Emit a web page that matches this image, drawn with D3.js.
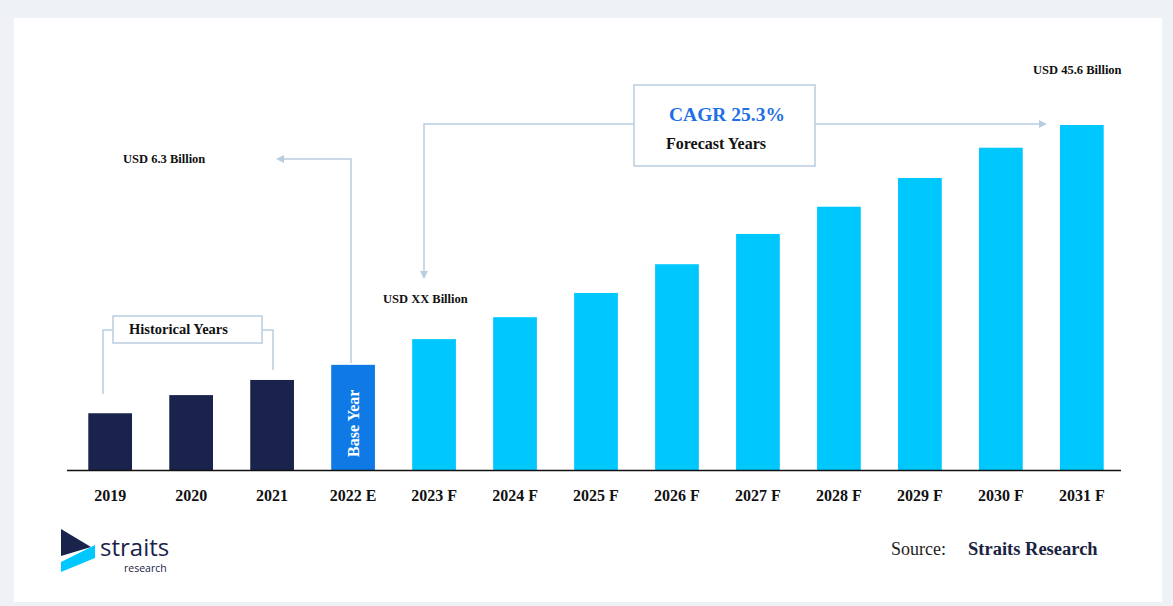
<!DOCTYPE html><html><head><meta charset="utf-8">
<script src="https://cdn.jsdelivr.net/npm/d3@7"></script>
<style>body{margin:0;background:#eef1f5}</style></head><body>
<svg id="c" width="1173" height="606"></svg>
<script>
const categories=["2019","2020","2021","2022 E","2023 F","2024 F","2025 F","2026 F","2027 F","2028 F","2029 F","2030 F","2031 F"];
const values=[7.5,9.9,11.9,13.9,17.3,20.2,23.4,27.2,31.2,34.8,38.6,42.6,45.6];
const colors=["#19234b","#19234b","#19234b","#0f7ae5","#00c8ff","#00c8ff","#00c8ff","#00c8ff","#00c8ff","#00c8ff","#00c8ff","#00c8ff","#00c8ff"];
const svg=d3.select("#c");
svg.append("rect").attr("x",14).attr("y",18).attr("width",1148).attr("height",584).attr("fill","#fff");
const x=d3.scaleBand().domain(categories).range([64,1128]).paddingInner(0.46).paddingOuter(0.3);
const y=d3.scaleLinear().domain([0,45.6]).range([470,125]);
svg.selectAll(".b").data(values).join("rect").attr("x",(d,i)=>x(categories[i])).attr("width",x.bandwidth())
 .attr("y",d=>y(d)).attr("height",d=>470-y(d)).attr("fill",(d,i)=>colors[i]);
svg.append("line").attr("x1",67).attr("x2",1121).attr("y1",470.5).attr("y2",470.5).attr("stroke","#111").attr("stroke-width",1.5);
const ax=svg.append("g").attr("transform","translate(0,470)").call(d3.axisBottom(x).tickSize(0).tickPadding(20));
ax.select(".domain").remove();
ax.selectAll("text").attr("font-family","Liberation Serif").attr("font-weight","bold").attr("font-size",16).attr("fill","#111");
const T=(t,xx,yy,s,o={})=>svg.append("text").text(t).attr("x",xx).attr("y",yy).attr("font-family","Liberation Serif").attr("font-weight","bold").attr("font-size",s).attr("fill",o.fill||"#111").attr("text-anchor",o.a||"start");
const bx=c=>x(c)+x.bandwidth()/2;
svg.append("text").text("Base Year").attr("transform",`translate(${bx("2022 E")+6},457) rotate(-90)`).attr("font-family","Liberation Serif").attr("font-weight","bold").attr("font-size",16).attr("fill","#fff");
const st="#b8cde0";
svg.append("path").attr("d",`M103,394V330H113M262,330H273V370`).attr("fill","none").attr("stroke",st).attr("stroke-width",1.5);
svg.append("rect").attr("x",113).attr("y",316).attr("width",149).attr("height",27).attr("fill","#fff").attr("stroke",st).attr("stroke-width",1.5);
T("Historical Years",129,334,14.5);
svg.append("path").attr("d",`M351,363V159H282`).attr("fill","none").attr("stroke",st).attr("stroke-width",1.5);
svg.append("path").attr("d","M276,159l8,-4v8z").attr("fill",st);
T("USD 6.3 Billion",123,163,12.5);
svg.append("path").attr("d",`M424,272V124H634M815,124H1040`).attr("fill","none").attr("stroke",st).attr("stroke-width",1.5);
svg.append("path").attr("d","M424,279l-4,-8h8z").attr("fill",st);
svg.append("path").attr("d","M1047,124l-8,-4v8z").attr("fill",st);
svg.append("rect").attr("x",634).attr("y",85).attr("width",181).attr("height",81).attr("fill","#fff").attr("stroke",st).attr("stroke-width",1.5);
T("CAGR 25.3%",727,121,19.5,{fill:"#1f6fe5",a:"middle"});
T("Forecast Years",716,149,16,{a:"middle"});
T("USD XX Billion",383,303,12.5);
T("USD 45.6 Billion",1033,74,12.5);
svg.append("text").text("Source:").attr("x",891).attr("y",555).attr("font-family","Liberation Serif").attr("font-size",18).attr("fill","#222");
T("Straits Research",968,555,18.5,{fill:"#1a2340"});
svg.append("path").attr("d","M61,529L91,547L61,556Z").attr("fill","#19234b");
svg.append("path").attr("d","M61,562L95,545L95,558L61,572Z").attr("fill","#00c8ff");
svg.append("text").text("straits").attr("x",100).attr("y",556).attr("font-family","Open Sans").attr("font-size",24).attr("fill","#19234b");
svg.append("text").text("research").attr("x",124).attr("y",572).attr("font-family","Open Sans").attr("font-size",10.5).attr("fill","#19234b");
</script></body></html>
